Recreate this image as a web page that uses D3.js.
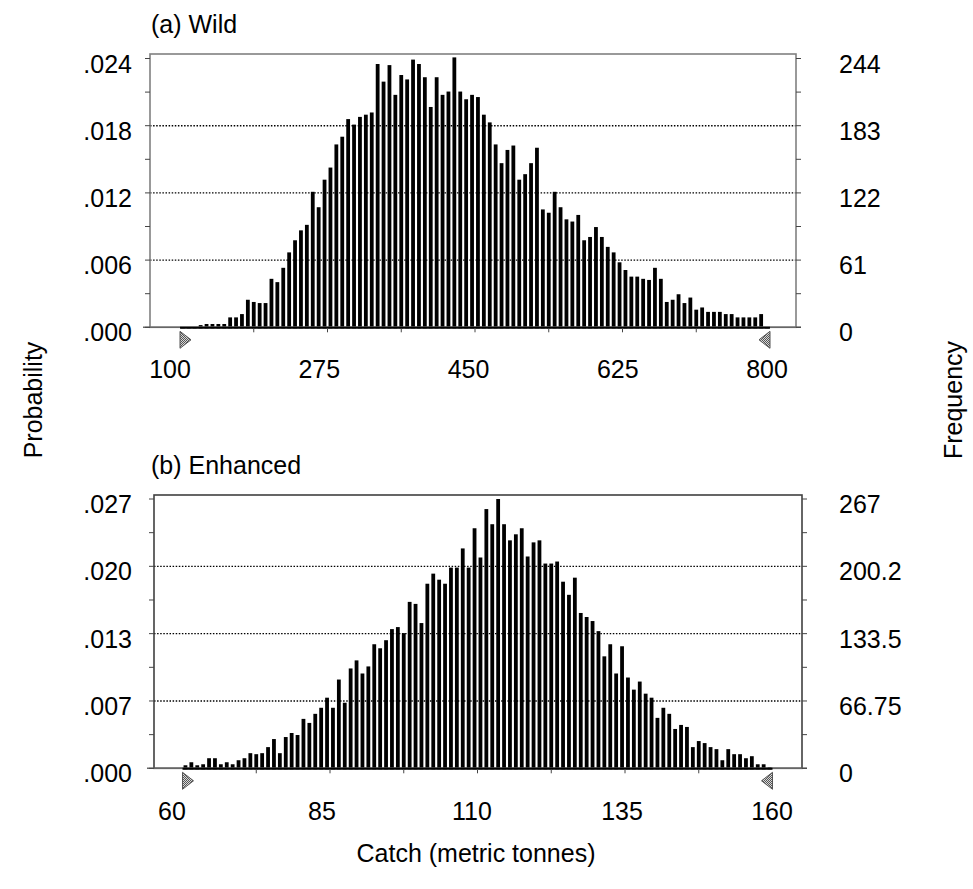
<!DOCTYPE html>
<html>
<head>
<meta charset="utf-8">
<script src="https://cdn.jsdelivr.net/npm/d3@7"></script>
<style>
  body { margin: 0; background: #fff; }
  svg { font-family: "Liberation Sans", Arial, sans-serif; }
</style>
</head>
<body>
<div id="content"></div>
<script>
// frequencies per bin (100 bins each)
let wildFreq = [
  0, 0, 0, 2, 3, 3, 3, 3, 9, 9,
  12, 25, 23, 22, 22, 44, 41, 54, 68, 79,
  88, 93, 123, 109, 134, 145, 166, 173, 189, 184,
  191, 193, 195, 239, 223, 238, 211, 229, 225, 243,
  239, 227, 200, 227, 211, 214, 245, 214, 207, 211,
  209, 193, 186, 166, 149, 161, 165, 134, 139, 149,
  163, 107, 104, 123, 109, 98, 96, 102, 79, 82,
  91, 82, 73, 68, 59, 52, 46, 46, 44, 43,
  54, 44, 23, 25, 30, 22, 27, 16, 18, 14,
  14, 14, 12, 12, 9, 9, 9, 9, 12, 0
];
let enhancedFreq = [
  3, 6, 3, 4, 10, 10, 4, 6, 4, 8,
  10, 15, 14, 15, 21, 29, 15, 31, 35, 33,
  49, 45, 54, 60, 70, 60, 88, 65, 99, 107,
  94, 101, 123, 119, 127, 138, 140, 134, 165, 163,
  144, 183, 193, 187, 183, 199, 199, 218, 199, 238,
  209, 257, 242, 267, 242, 226, 232, 238, 210, 224,
  226, 203, 203, 205, 185, 172, 189, 154, 150, 146,
  136, 111, 123, 94, 121, 90, 78, 86, 74, 70,
  50, 60, 54, 39, 43, 41, 21, 27, 25, 21,
  19, 8, 19, 14, 14, 10, 12, 4, 4, 1
];

let wildRange = [100, 800];
let enhancedRange = [60, 160];
let wildXLabels = [100, 275, 450, 625, 800];
let enhancedXLabels = [60, 85, 110, 135, 160];
let wildFreqTicks = [0, 61, 122, 183, 244];
let wildFreqLabels = ["0", "61", "122", "183", "244"];
let wildProbLabels = [".000", ".006", ".012", ".018", ".024"];
let enhancedFreqTicks = [0, 66.75, 133.5, 200.25, 267];
let enhancedFreqLabels = ["0", "66.75", "133.5", "200.2", "267"];
let enhancedProbLabels = [".000", ".007", ".013", ".020", ".027"];

let width = 973;
let height = 889;
let svg = d3.select("#content").append("svg")
  .attr("width", width)
  .attr("height", height);

// stippled fill for the little range grabbers
let pat = svg.append("defs").append("pattern")
  .attr("id", "stipple")
  .attr("width", 2).attr("height", 2)
  .attr("patternUnits", "userSpaceOnUse");
pat.append("rect").attr("width", 2).attr("height", 2).attr("fill", "#d8d8d8");
pat.append("rect").attr("width", 1).attr("height", 1).attr("fill", "#555");
pat.append("rect").attr("x", 1).attr("y", 1).attr("width", 1).attr("height", 1).attr("fill", "#555");

let fontSize = 25;

function drawPanel(p) {
  let g = svg.append("g");
  let x = d3.scaleLinear().domain(p.range).range([p.x0, p.x1]);
  let labelX = d3.scaleLinear().domain(p.range).range(p.labelRange);
  let y = d3.scaleLinear().domain([0, p.freqTicks[4]]).range([p.base, p.tickTop]);
  let nBins = p.freq.length;
  let binW = (p.range[1] - p.range[0]) / nBins;
  let step = p.freqTicks[1];
  let minor = d3.range(0, p.freqTicks[4] + 0.001, step / 2);

  // dotted grid
  g.selectAll(".grid").data(p.freqTicks.slice(1, 4)).enter().append("line")
    .attr("x1", p.left).attr("x2", p.right)
    .attr("y1", d => y(d)).attr("y2", d => y(d))
    .style("stroke", "#000")
    .style("stroke-width", 1.4)
    .style("stroke-dasharray", "1.5,1.6");

  // bars
  g.selectAll(".bar").data(p.freq).enter().append("rect")
    .attr("x", (d, i) => x(p.range[0] + binW * (i + 0.5)) - 1.9)
    .attr("width", 3.8)
    .attr("y", d => y(d))
    .attr("height", d => p.base - y(d) + 1)
    .style("fill", "#000");

  // frame
  g.append("rect")
    .attr("x", p.left).attr("y", p.top)
    .attr("width", p.right - p.left).attr("height", p.base - p.top)
    .style("fill", "none")
    .style("stroke", p.frameColor)
    .style("stroke-width", 1.6);

  // baseline, black under the bars
  g.append("line")
    .attr("x1", p.left - 7).attr("x2", p.right + 5)
    .attr("y1", p.base).attr("y2", p.base)
    .style("stroke", "#666").style("stroke-width", 1.5);
  g.append("line")
    .attr("x1", x(p.range[0])).attr("x2", x(p.range[1]))
    .attr("y1", p.base + 0.5).attr("y2", p.base + 0.5)
    .style("stroke", "#000").style("stroke-width", 2);

  // y ticks both sides
  g.selectAll(".lt").data(minor).enter().append("line")
    .attr("x1", p.left - 5).attr("x2", p.left)
    .attr("y1", d => y(d)).attr("y2", d => y(d))
    .style("stroke", "#444").style("stroke-width", 1);
  g.selectAll(".rt").data(minor).enter().append("line")
    .attr("x1", p.right).attr("x2", p.right + 5)
    .attr("y1", d => y(d)).attr("y2", d => y(d))
    .style("stroke", "#444").style("stroke-width", 1);

  // x ticks
  let xStep = (p.xLabels[1] - p.xLabels[0]) / 2;
  let xt = d3.range(p.range[0] + xStep, p.range[1] - 0.001, xStep);
  g.selectAll(".xt").data(xt).enter().append("line")
    .attr("x1", d => x(d)).attr("x2", d => x(d))
    .attr("y1", p.base + 1).attr("y2", p.base + 5)
    .style("stroke", "#444").style("stroke-width", 1);

  // range grabbers
  let tri = [
    [[0, 4], [0, 21], [11, 12.5]],
    [[0, 4], [0, 21], [-11, 12.5]]
  ];
  g.selectAll(".grab").data(p.range).enter().append("path")
    .attr("d", (d, i) => "M" + tri[i].map(pt => [x(d) + pt[0], p.base + pt[1]].join(",")).join("L") + "Z")
    .style("fill", "url(#stipple)")
    .style("stroke", "#555")
    .style("stroke-width", 1);

  // labels
  g.selectAll(".pl").data(p.freqTicks).enter().append("text")
    .attr("x", 132).attr("y", d => y(d) + 14)
    .attr("text-anchor", "end")
    .style("font-size", fontSize + "px")
    .text((d, i) => p.probLabels[i]);
  g.selectAll(".fl").data(p.freqTicks).enter().append("text")
    .attr("x", 839).attr("y", d => y(d) + 14)
    .style("font-size", fontSize + "px")
    .text((d, i) => p.freqLabels[i]);
  g.selectAll(".xl").data(p.xLabels).enter().append("text")
    .attr("x", d => labelX(d)).attr("y", p.xLabelY)
    .attr("text-anchor", "middle")
    .style("font-size", fontSize + "px")
    .text(d => d);

  g.append("text")
    .attr("x", 151).attr("y", p.titleY)
    .style("font-size", fontSize + "px")
    .text(p.title);
}

drawPanel({
  title: "(a) Wild", titleY: 33,
  freq: wildFreq, range: wildRange, xLabels: wildXLabels,
  freqTicks: wildFreqTicks, freqLabels: wildFreqLabels, probLabels: wildProbLabels,
  left: 150, right: 796, top: 54, base: 327.3, tickTop: 58.5,
  x0: 180, x1: 770, labelRange: [170, 767], xLabelY: 378,
  frameColor: "#808080"
});

drawPanel({
  title: "(b) Enhanced", titleY: 474,
  freq: enhancedFreq, range: enhancedRange, xLabels: enhancedXLabels,
  freqTicks: enhancedFreqTicks, freqLabels: enhancedFreqLabels, probLabels: enhancedProbLabels,
  left: 154, right: 802, top: 495, base: 768.3, tickTop: 499,
  x0: 182.5, x1: 772.5, labelRange: [172, 772], xLabelY: 820,
  frameColor: "#404040"
});

let titleSize = "25px";
svg.append("text")
  .attr("transform", "translate(42,400) rotate(-90)")
  .attr("text-anchor", "middle")
  .style("font-size", titleSize)
  .text("Probability");
svg.append("text")
  .attr("transform", "translate(962,400) rotate(-90)")
  .attr("text-anchor", "middle")
  .style("font-size", titleSize)
  .text("Frequency");
svg.append("text")
  .attr("x", 476).attr("y", 862)
  .attr("text-anchor", "middle")
  .style("font-size", titleSize)
  .text("Catch (metric tonnes)");
</script>
</body>
</html>
